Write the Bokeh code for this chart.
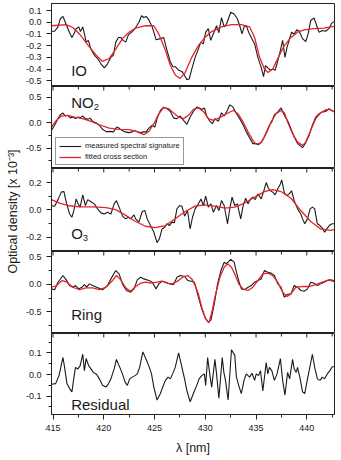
import math
from bokeh.plotting import figure
from bokeh.layouts import row, column
from bokeh.models import (Range1d, LinearAxis, FixedTicker, PrintfTickFormatter,
                          Label, Legend, LegendItem)
from bokeh.embed import file_html
from bokeh.resources import INLINE

FONT = "Liberation Sans"
BLACK = "#1a1a1a"
RED = "#e3232a"
AXIS = "#222222"

# wavelength axis
x_ticks = [415, 420, 425, 430, 435, 440]
x_minor = [417.5, 422.5, 427.5, 432.5, 437.5, 442.5]
x_lo, x_hi = 414.85, 442.73

# ---------------- IO ----------------
io_meas_nm = [414.84, 415.16, 415.49, 415.72, 415.98, 416.14, 416.37, 416.63, 416.86, 417.05,
              417.28, 417.54, 417.70, 417.93, 418.09, 418.26, 418.48, 418.74, 419.07, 419.39,
              419.72, 420.05, 420.37, 420.70, 420.96, 421.18, 421.45, 421.67, 421.90, 422.16,
              422.42, 422.75, 423.07, 423.46, 423.72, 423.95, 424.18, 424.44, 424.77, 425.16,
              425.58, 425.90, 426.23, 426.56, 426.82, 427.04, 427.37, 427.70, 427.96, 428.18,
              428.41, 428.67, 429.00, 429.32, 429.55, 429.81, 430.04, 430.30, 430.53, 430.79,
              431.11, 431.34, 431.60, 431.86, 432.09, 432.51, 432.84, 433.16, 433.39, 433.62,
              433.82, 434.04, 434.27, 434.53, 434.86, 435.18, 435.51, 435.74, 435.93, 436.16,
              436.42, 436.65, 436.88, 437.14, 437.40, 437.62, 437.85, 438.05, 438.31, 438.50,
              438.76, 439.02, 439.25, 439.58, 439.90, 440.13, 440.39, 440.72, 440.98, 441.20,
              441.53, 441.86, 442.18, 442.44, 442.67]
io_meas = [-0.077, -0.077, -0.04, 0.03, 0.05, 0.015, -0.035, -0.09, -0.13, -0.10,
           -0.055, -0.04, -0.08, -0.04, -0.10, -0.17, -0.155, -0.23, -0.28, -0.31,
           -0.355, -0.39, -0.355, -0.30, -0.28, -0.17, -0.13, -0.13, -0.155, -0.17,
           -0.11, -0.085, -0.055, 0.0, 0.055, 0.04, 0.05, 0.02, -0.04, -0.15,
           -0.14, -0.13, -0.24, -0.34, -0.38, -0.38, -0.41, -0.42, -0.455, -0.49,
           -0.485, -0.40, -0.30, -0.23, -0.17, -0.185, -0.085, -0.055, -0.155, -0.10,
           -0.03, -0.09, 0.04, -0.04, -0.015, 0.085, 0.07, 0.03, -0.03, -0.10,
           -0.04, -0.03, -0.085, -0.13, -0.185, -0.30, -0.385, -0.465, -0.37, -0.39,
           -0.41, -0.40, -0.41, -0.33, -0.24, -0.155, -0.30, -0.215, -0.14, -0.085,
           -0.10, -0.065, -0.077, -0.14, -0.165, -0.10, 0.015, 0.037, -0.03, -0.085,
           -0.07, -0.077, -0.055, -0.01, 0.005]
io_fit_nm = [414.84, 416.30, 416.95, 417.60, 418.58, 419.23, 419.88, 420.53, 421.18, 421.84,
             422.49, 423.14, 424.11, 424.93, 425.42, 426.07, 426.56, 427.04, 427.53, 428.02,
             428.67, 429.32, 429.97, 430.63, 431.60, 432.58, 433.55, 434.37, 434.86, 435.35,
             435.83, 436.16, 436.65, 437.14, 437.79, 438.44, 439.09, 439.74, 440.72, 441.69,
             442.67]
io_fit = [-0.03, -0.02, -0.045, -0.10, -0.21, -0.28, -0.335, -0.31, -0.23, -0.14,
          -0.085, -0.05, -0.03, -0.03, -0.10, -0.24, -0.37, -0.45, -0.48, -0.43,
          -0.30, -0.20, -0.13, -0.08, -0.04, -0.02, -0.02, -0.04, -0.13, -0.30,
          -0.40, -0.43, -0.40, -0.31, -0.20, -0.13, -0.085, -0.065, -0.055, -0.05,
          -0.035]

# ---------------- NO2 ----------------
no2_meas_nm = [414.84, 415.16, 415.49, 415.72, 415.98, 416.24, 416.46, 416.73, 416.95, 417.21,
               417.44, 417.70, 417.93, 418.19, 418.42, 418.65, 418.91, 419.23, 419.56, 419.88,
               420.27, 420.60, 420.96, 421.28, 421.51, 421.77, 422.10, 422.49, 422.81, 423.07,
               423.30, 423.63, 423.95, 424.18, 424.44, 424.77, 425.03, 425.25, 425.58, 425.90,
               426.23, 426.56, 426.88, 427.21, 427.53, 427.86, 428.18, 428.51, 428.83, 429.16,
               429.42, 429.65, 429.91, 430.14, 430.46, 430.69, 430.95, 431.28, 431.60, 431.86,
               432.09, 432.42, 432.74, 433.07, 433.39, 433.72, 434.04, 434.37, 434.69, 435.02,
               435.25, 435.51, 435.77, 436.03, 436.32, 436.55, 436.81, 437.14, 437.46, 437.72,
               437.95, 438.18, 438.44, 438.76, 439.09, 439.58, 439.90, 440.23, 440.55, 440.88,
               441.20, 441.53, 441.86, 442.18, 442.44, 442.67]
no2_meas = [-0.15, -0.05, 0.08, 0.155, 0.19, 0.13, 0.145, 0.09, 0.11, 0.08,
            0.11, 0.10, 0.13, 0.08, 0.065, 0.09, 0.025, 0.0, -0.05, -0.13,
            -0.18, -0.17, -0.18, -0.085, -0.105, -0.15, -0.18, -0.195, -0.18, -0.15,
            -0.18, -0.195, -0.18, -0.18, -0.105, -0.05, -0.085, 0.08, 0.24, 0.305,
            0.275, 0.22, 0.09, 0.08, 0.13, 0.045, -0.035, 0.11, 0.22, 0.305,
            0.29, 0.26, 0.29, 0.13, 0.025, -0.02, 0.08, 0.025, 0.195, 0.13,
            0.21, 0.35, 0.305, 0.175, 0.08, -0.04, -0.18, -0.30, -0.41, -0.41,
            -0.43, -0.38, -0.30, -0.18, -0.05, 0.015, 0.155, 0.21, 0.29, 0.175,
            0.09, 0.015, -0.12, -0.28, -0.41, -0.49, -0.39, -0.25, -0.05, 0.11,
            0.175, 0.21, 0.22, 0.275, 0.24, 0.22]
no2_fit_nm = [414.84, 415.33, 415.81, 416.46, 417.12, 417.93, 418.74, 419.56, 420.53, 421.51,
              422.49, 423.14, 423.95, 424.44, 424.93, 425.42, 425.90, 426.39, 426.88, 427.37,
              427.86, 428.35, 428.83, 429.32, 429.81, 430.30, 430.79, 431.44, 432.09, 432.74,
              433.23, 433.72, 434.21, 434.69, 435.02, 435.51, 436.00, 436.48, 436.97, 437.46,
              437.79, 438.11, 438.60, 439.09, 439.58, 439.90, 440.39, 440.88, 441.37, 441.86,
              442.34, 442.67]
no2_fit = [-0.085, 0.045, 0.13, 0.145, 0.11, 0.08, 0.025, -0.04, -0.105, -0.13,
           -0.137, -0.165, -0.235, -0.17, -0.02, 0.175, 0.295, 0.275, 0.19, 0.11,
           0.08, 0.145, 0.26, 0.29, 0.22, 0.08, 0.045, 0.10, 0.175, 0.24,
           0.175, 0.015, -0.18, -0.345, -0.425, -0.39, -0.215, 0.015, 0.175, 0.24,
           0.195, 0.015, -0.215, -0.38, -0.445, -0.38, -0.15, 0.08, 0.195, 0.255,
           0.255, 0.21]

# ---------------- O3 ----------------
o3_meas_nm = [414.84, 415.16, 415.49, 415.81, 416.07, 416.30, 416.63, 416.86, 417.05, 417.28,
              417.47, 417.67, 417.93, 418.19, 418.42, 418.74, 419.07, 419.39, 419.72, 420.05,
              420.37, 420.70, 421.02, 421.25, 421.51, 421.84, 422.16, 422.42, 422.65, 422.98,
              423.14, 423.46, 423.79, 424.05, 424.28, 424.60, 424.93, 425.25, 425.48, 425.74,
              426.00, 426.23, 426.46, 426.72, 426.95, 427.21, 427.47, 427.70, 427.96, 428.25,
              428.51, 428.74, 429.00, 429.32, 429.58, 429.81, 430.04, 430.30, 430.56, 430.79,
              431.11, 431.34, 431.60, 431.86, 432.19, 432.42, 432.64, 432.90, 433.16, 433.49,
              433.72, 433.98, 434.21, 434.47, 434.69, 434.92, 435.18, 435.51, 435.77, 436.00,
              436.22, 436.42, 436.65, 436.88, 437.14, 437.40, 437.53, 437.79, 438.05, 438.27,
              438.50, 438.76, 439.09, 439.41, 439.58, 439.80, 440.07, 440.33, 440.55, 440.78,
              441.04, 441.30, 441.53, 441.76, 442.02, 442.28, 442.51, 442.67]
o3_meas = [0.03, 0.027, 0.075, 0.13, 0.135, 0.056, -0.03, -0.054, -0.005, 0.08,
           0.044, 0.02, 0.11, 0.032, 0.075, 0.06, 0.044, 0.007, -0.022, -0.03,
           -0.017, -0.03, 0.044, 0.068, 0.02, -0.046, -0.066, -0.054, -0.066, -0.037,
           -0.066, -0.09, -0.012, -0.005, -0.066, -0.115, -0.163, -0.24, -0.212, -0.14,
           -0.127, -0.102, -0.115, -0.09, -0.095, 0.007, 0.032, 0.027, -0.046, -0.005,
           -0.14, -0.054, 0.007, 0.044, 0.08, 0.032, 0.10, 0.02, 0.044, -0.017,
           0.032, -0.005, 0.068, 0.032, -0.102, 0.012, 0.093, 0.032, 0.044, -0.066,
           0.027, 0.085, 0.044, 0.08, 0.093, 0.075, 0.117, 0.08, 0.14, 0.20,
           0.158, 0.14, 0.13, 0.11, 0.154, 0.19, 0.22, 0.124, 0.105, 0.117,
           0.14, 0.068, 0.007, -0.03, -0.066, -0.102, -0.066, 0.007, 0.02, 0.007,
           -0.102, -0.115, -0.134, -0.163, -0.134, -0.11, -0.102, -0.102]
o3_fit_nm = [414.84, 415.65, 416.63, 417.60, 418.91, 420.21, 421.18, 422.16, 423.14, 424.11,
             425.09, 426.07, 427.04, 428.02, 429.00, 429.97, 430.95, 431.93, 432.90, 433.88,
             434.86, 435.83, 436.65, 437.46, 438.44, 439.41, 440.39, 441.37, 442.34, 442.67]
o3_fit = [0.075, 0.05, 0.03, 0.022, 0.022, 0.017, 0.002, -0.04, -0.085, -0.12,
          -0.13, -0.115, -0.065, -0.012, 0.027, 0.037, 0.027, 0.012, 0.02, 0.05,
          0.093, 0.134, 0.149, 0.134, 0.085, -0.005, -0.085, -0.14, -0.15, -0.144]

# ---------------- Ring ----------------
ring_meas_nm = [414.84, 415.16, 415.49, 415.98, 416.30, 416.63, 416.95, 417.21, 417.54, 417.86,
                418.09, 418.32, 418.58, 418.91, 419.30, 419.88, 420.37, 420.70, 421.18, 421.51,
                421.84, 422.23, 422.65, 422.98, 423.30, 423.63, 423.95, 424.44, 424.77, 425.16,
                425.42, 425.74, 426.13, 426.46, 426.88, 427.21, 427.53, 427.96, 428.28, 428.61,
                428.93, 429.32, 429.65, 429.97, 430.30, 430.56, 430.89, 431.21, 431.54, 431.86,
                432.09, 432.51, 432.84, 433.07, 433.29, 433.55, 433.88, 434.21, 434.53, 434.86,
                435.18, 435.51, 435.83, 436.16, 436.48, 436.81, 437.14, 437.46, 437.79, 438.05,
                438.44, 438.76, 439.09, 439.41, 439.74, 440.07, 440.39, 440.72, 441.04, 441.37,
                441.69, 442.02, 442.34, 442.67]
ring_meas = [-0.084, -0.10, 0.036, 0.157, 0.078, -0.024, -0.054, -0.024, -0.084, -0.054,
             -0.006, -0.054, 0.006, -0.024, -0.054, -0.10, -0.024, 0.096, 0.247, 0.187,
             0.006, -0.114, -0.145, -0.084, 0.078, 0.126, 0.096, 0.066, 0.036, -0.084,
             0.006, 0.054, 0.036, 0.006, -0.006, 0.126, 0.157, 0.139, 0.066, 0.054,
             0.036, -0.235, -0.446, -0.60, -0.687, -0.645, -0.355, 0.006, 0.247, 0.398,
             0.37, 0.45, 0.40, 0.217, 0.066, -0.084, -0.10, -0.054, -0.024, 0.036,
             0.066, 0.096, 0.247, 0.217, 0.20, 0.157, 0.006, -0.054, -0.235, -0.187,
             -0.175, -0.024, -0.054, -0.114, -0.127, -0.084, 0.036, 0.018, -0.024, 0.006,
             0.036, 0.066, 0.078, 0.066]
ring_fit_nm = [414.84, 415.33, 415.91, 416.37, 416.95, 417.60, 418.26, 418.91, 419.56, 420.21,
               420.86, 421.25, 421.67, 422.16, 422.65, 423.14, 423.63, 424.11, 424.60, 425.25,
               425.74, 426.23, 426.72, 427.37, 427.86, 428.28, 428.67, 429.00, 429.32, 429.65,
               430.04, 430.36, 430.69, 430.95, 431.44, 431.86, 432.19, 432.58, 432.90, 433.29,
               433.72, 434.21, 434.69, 435.18, 435.67, 436.16, 436.65, 437.14, 437.62, 438.05,
               438.44, 438.93, 439.58, 440.23, 440.88, 441.53, 442.18, 442.67]
ring_fit = [-0.055, -0.025, 0.065, 0.036, -0.055, -0.10, -0.066, -0.066, -0.096, -0.055,
            0.066, 0.157, 0.078, -0.066, -0.127, -0.042, 0.018, 0.036, 0.018, 0.036,
            0.054, 0.018, 0.006, 0.066, 0.139, 0.157, 0.096, -0.024, -0.175, -0.416,
            -0.627, -0.70, -0.476, -0.235, 0.126, 0.307, 0.37, 0.307, 0.187, 0.006,
            -0.084, -0.114, -0.054, 0.066, 0.187, 0.20, 0.157, 0.036, -0.145, -0.223,
            -0.175, -0.054, -0.042, -0.042, -0.006, 0.036, 0.078, 0.048]

# ---------------- Residual ----------------
res_nm = [414.84, 415.26, 415.59, 415.98, 416.14, 416.37, 416.63, 416.86, 417.02, 417.21,
          417.44, 417.67, 417.93, 418.09, 418.26, 418.52, 418.74, 418.97, 419.30, 419.56,
          419.88, 420.21, 420.47, 420.70, 421.02, 421.25, 421.58, 421.84, 422.10, 422.32,
          422.55, 422.81, 423.07, 423.30, 423.53, 423.85, 424.18, 424.44, 424.70, 424.93,
          425.25, 425.58, 425.81, 426.07, 426.33, 426.56, 426.78, 427.04, 427.37, 427.70,
          427.96, 428.18, 428.51, 428.83, 429.16, 429.39, 429.65, 429.91, 430.04, 430.23,
          430.46, 430.63, 430.95, 431.11, 431.34, 431.67, 431.83, 431.99, 432.25, 432.58,
          432.90, 433.07, 433.29, 433.55, 433.82, 434.04, 434.37, 434.60, 434.86, 435.02,
          435.25, 435.44, 435.67, 436.00, 436.16, 436.32, 436.55, 436.81, 437.07, 437.40,
          437.62, 437.85, 438.11, 438.31, 438.60, 438.76, 438.96, 439.09, 439.35, 439.58,
          439.80, 440.07, 440.55, 440.78, 441.04, 441.30, 441.53, 441.76, 442.02, 442.28,
          442.51, 442.67]
res = [-0.045, -0.042, -0.005, 0.079, 0.033, -0.042, -0.065, -0.08, -0.027, 0.033,
       0.026, 0.04, 0.094, 0.018, 0.074, 0.04, 0.026, 0.01, 0.0, -0.02,
       -0.05, -0.058, -0.042, -0.02, 0.026, 0.07, 0.033, 0.003, -0.035, -0.05,
       -0.02, -0.012, -0.005, 0.003, 0.033, 0.105, 0.07, 0.04, 0.003, -0.058,
       -0.118, -0.088, -0.058, -0.027, -0.012, -0.02, 0.003, 0.033, 0.10, 0.033,
       -0.02, -0.073, -0.126, -0.088, -0.05, -0.02, -0.005, 0.003, -0.05, 0.079,
       -0.005, -0.058, 0.07, 0.003, -0.11, 0.079, 0.01, -0.027, -0.118, 0.115,
       0.09, -0.012, -0.05, -0.088, -0.027, 0.003, -0.012, 0.006, -0.027, 0.003,
       -0.005, 0.018, -0.076, 0.055, 0.003, 0.033, 0.018, -0.027, 0.003, 0.074,
       -0.027, -0.095, 0.01, -0.02, 0.07, 0.026, 0.01, 0.033, -0.02, -0.08,
       -0.088, -0.02, 0.094, 0.033, -0.02, -0.027, -0.012, -0.02, 0.003, 0.018,
       0.036, 0.036]

# y tick labels per panel
io_ticks = [-0.5, -0.4, -0.3, -0.2, -0.1, 0.0, 0.1]
no2_ticks = [-0.5, 0.0, 0.5]
no2_minor = [-0.75, -0.25, 0.25]
o3_ticks = [-0.2, 0.0, 0.2]
o3_minor = [-0.1, 0.1]
ring_ticks = [-0.5, 0.0, 0.5]
ring_minor = [-0.75, -0.25, 0.25]
res_ticks = [-0.1, 0.0, 0.1]
res_minor = [-0.15, -0.05, 0.05, 0.15]

LEFT_W = 22
PANEL_W = 341 - LEFT_W


def make_panel(height, yr, ticks, minor, top_ticks, border_top, border_bottom):
    p = figure(width=PANEL_W, height=height, output_backend="svg", toolbar_location=None,
               x_range=Range1d(x_lo, x_hi), y_range=Range1d(*yr),
               x_axis_location=None, y_axis_location="left",
               min_border_left=27, min_border_right=7,
               min_border_top=border_top, min_border_bottom=border_bottom)
    p.outline_line_color = AXIS
    p.outline_line_width = 1
    p.grid.visible = False
    p.background_fill_color = "white"
    p.border_fill_color = "white"
    ya = p.yaxis[0]
    ya.ticker = FixedTicker(ticks=ticks, minor_ticks=minor)
    ya.formatter = PrintfTickFormatter(format="%.1f")
    ya.major_tick_out = 5
    ya.major_tick_in = 0
    ya.minor_tick_out = 3
    ya.minor_tick_in = 0
    ya.major_label_standoff = 5
    ya.major_label_text_font = FONT
    ya.major_label_text_font_size = "9px"
    ya.major_label_text_color = BLACK
    ya.axis_line_color = AXIS
    ya.major_tick_line_color = AXIS
    ya.minor_tick_line_color = AXIS
    if top_ticks:
        # wavelength ticks hanging from the top edge into the panel
        p.ray(x=x_ticks, y=[yr[1]] * len(x_ticks), length=4, length_units="screen",
              angle=-math.pi / 2, line_color=AXIS, line_width=1)
        p.ray(x=x_minor, y=[yr[1]] * len(x_minor), length=3, length_units="screen",
              angle=-math.pi / 2, line_color=AXIS, line_width=1)
    return p


def draw(p, mx, my, fx=None, fy=None):
    r_m = p.line(mx, my, line_color=BLACK, line_width=1.1)
    r_f = None
    if fx is not None:
        r_f = p.line(fx, fy, line_color=RED, line_width=1.3)
    return r_m, r_f


def name_label(p, x, y, text, size="15px"):
    p.add_layout(Label(x=x, y=y, text=text, text_font=FONT, text_font_size=size,
                       text_color=BLACK, text_baseline="alphabetic"))


# IO
p1 = make_panel(86, (-0.549, 0.160), io_ticks, [], False, 3, 0)
draw(p1, io_meas_nm, io_meas, io_fit_nm, io_fit)
name_label(p1, 416.79, -0.413, "IO")

# NO2
p2 = make_panel(82, (-0.898, 0.71), no2_ticks, no2_minor, True, 0, 0)
r_m, r_f = draw(p2, no2_meas_nm, no2_meas, no2_fit_nm, no2_fit)
name_label(p2, 416.79, 0.406, "NO")
name_label(p2, 419.02, 0.308, "2", "9.5px")
legend = Legend(items=[LegendItem(label="measured spectral signature", renderers=[r_m]),
                       LegendItem(label="fitted cross section", renderers=[r_f])],
                location=(4, 3), orientation="vertical",
                label_text_font=FONT, label_text_font_size="7.5px", label_text_color=BLACK,
                glyph_width=22, glyph_height=8, label_height=8, label_standoff=4,
                padding=3, spacing=2, margin=0,
                border_line_color="#333333", border_line_width=1,
                background_fill_color="white", background_fill_alpha=1.0)
p2.add_layout(legend)

# O3
p3 = make_panel(83, (-0.305, 0.303), o3_ticks, o3_minor, True, 0, 0)
draw(p3, o3_meas_nm, o3_meas, o3_fit_nm, o3_fit)
name_label(p3, 416.79, -0.175, "O")
name_label(p3, 417.93, -0.205, "3", "9.5px")

# Ring
p4 = make_panel(82, (-0.891, 0.591), ring_ticks, ring_minor, True, 0, 0)
draw(p4, ring_meas_nm, ring_meas, ring_fit_nm, ring_fit)
name_label(p4, 416.79, -0.555, "Ring")

# Residual with the wavelength axis underneath
p5 = make_panel(127, (-0.185, 0.19), res_ticks, res_minor, True, 0, 46)
draw(p5, res_nm, res)
name_label(p5, 416.79, -0.141, "Residual")
xa = LinearAxis(ticker=FixedTicker(ticks=x_ticks, minor_ticks=x_minor),
                major_tick_out=5, major_tick_in=0, minor_tick_out=3, minor_tick_in=0,
                major_label_standoff=5, major_label_text_font=FONT,
                major_label_text_font_size="9px", major_label_text_color=BLACK,
                axis_line_color=AXIS, major_tick_line_color=AXIS, minor_tick_line_color=AXIS,
                axis_label="λ [nm]", axis_label_text_font=FONT,
                axis_label_text_font_size="12.5px", axis_label_text_font_style="normal",
                axis_label_text_color=BLACK, axis_label_standoff=7)
p5.add_layout(xa, "below")

# shared y-axis title, spanning all panels
lab = figure(width=LEFT_W, height=460, output_backend="svg", toolbar_location=None,
             x_range=Range1d(0, LEFT_W), y_range=Range1d(0, 460),
             x_axis_location=None, y_axis_location=None,
             min_border=0)
lab.outline_line_color = None
lab.grid.visible = False
lab.add_layout(Label(x=12, y=249, text="Optical density [x 10⁻³]", angle=math.pi / 2,
                     text_font=FONT, text_font_size="12.5px", text_color=BLACK,
                     text_align="center", text_baseline="middle"))

layout = row(lab, column(p1, p2, p3, p4, p5, spacing=0), spacing=0)

open("out.html", "w").write(file_html(layout, INLINE))
